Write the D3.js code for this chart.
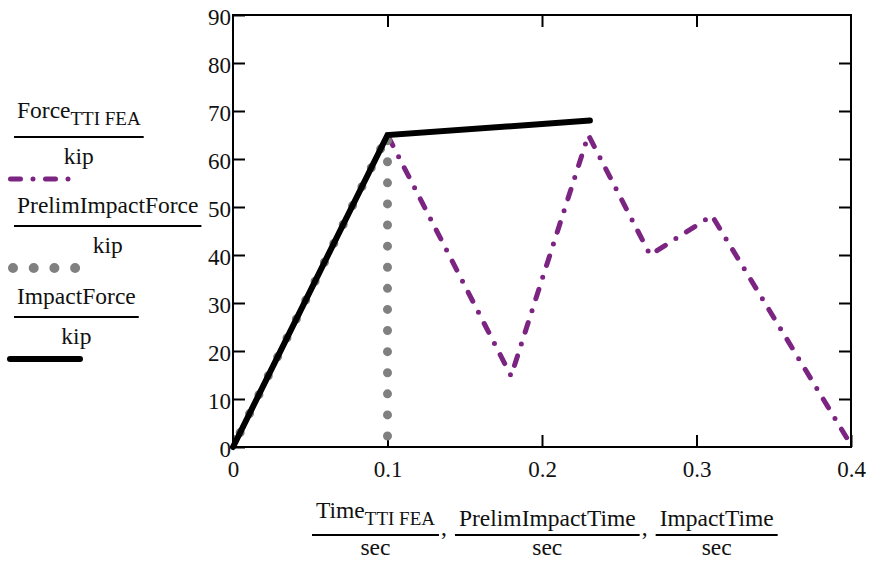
<!DOCTYPE html>
<html><head><meta charset="utf-8">
<script src="https://cdn.jsdelivr.net/npm/d3@7"></script>
<style>body{margin:0;background:#fff}svg{display:block}</style>
</head><body><svg id="c" width="870" height="565" style="font-family:'Liberation Serif','Times New Roman','DejaVu Serif',serif"></svg>
<script>
// Data
const timeTTI = [0, 0.1, 0.18, 0.23, 0.27, 0.31, 0.398];
const forceTTI = [0, 65, 14.8, 65, 40, 48.2, 1.5];
const prelimTime = [0, 0.1, 0.1];
const prelimForce = [0, 65, 0];
const impactTime = [0, 0.1, 0.231];
const impactForce = [0, 65, 68];
const xTicks = [0, 0.1, 0.2, 0.3, 0.4];
const yTicks = [0, 10, 20, 30, 40, 50, 60, 70, 80, 90];
const xTickLabels = ["0", "0.1", "0.2", "0.3", "0.4"];
const yTickLabels = ["0", "10", "20", "30", "40", "50", "60", "70", "80", "90"];
const legendNames = [["Force", "TTI FEA"], ["PrelimImpactForce", ""], ["ImpactForce", ""]];
const legendUnit = "kip";
const xNames = [["Time", "TTI FEA"], ["PrelimImpactTime", ""], ["ImpactTime", ""]];
const xUnit = "sec";

const FONT = "'Liberation Serif','Times New Roman','DejaVu Serif',serif";
const FS = 23.5, SUB = 19;
const svg = d3.select("#c");
const L = 233, R = 851, T = 15, B = 447;
const x = d3.scaleLinear().domain([0, 0.4]).range([L, R]);
const y = d3.scaleLinear().domain([0, 90]).range([B, T]);

const purple = "#7b2482", gray = "#808080";

// axes (inner ticks)
const gx = svg.append("g").attr("transform", `translate(0,${B})`)
  .call(d3.axisBottom(x).tickValues(xTicks).tickSizeInner(-12).tickSizeOuter(0).tickPadding(14).tickFormat((d,i)=>xTickLabels[i]));
const gxt = svg.append("g").attr("transform", `translate(0,${T})`)
  .call(d3.axisTop(x).tickValues(xTicks.slice(1,4)).tickSizeInner(-12).tickSizeOuter(0).tickFormat(""));
const gy = svg.append("g").attr("transform", `translate(${L},0)`)
  .call(d3.axisLeft(y).tickValues(yTicks).tickSizeInner(-12).tickSizeOuter(0).tickPadding(2).tickFormat((d,i)=>yTickLabels[i]));
const gyr = svg.append("g").attr("transform", `translate(${R},0)`)
  .call(d3.axisRight(y).tickValues(yTicks.slice(1,9)).tickSizeInner(-12).tickSizeOuter(0).tickFormat(""));
[gx, gxt, gy, gyr].forEach(g => {
  g.attr("font-family", FONT);
  g.selectAll(".domain").remove();
  g.selectAll("line").attr("stroke", "#000").attr("stroke-width", 2);
  g.selectAll("text").attr("font-size", 23).style("font-family", FONT).attr("fill", "#111");
});
gx.selectAll("text").attr("dy", "0.71em");
gy.selectAll("text").attr("dy", "0.42em");
// frame
svg.append("rect").attr("x", L).attr("y", T).attr("width", R - L).attr("height", B - T)
  .attr("fill", "none").attr("stroke", "#000").attr("stroke-width", 2);

const line = d3.line().x(d => x(d[0])).y(d => y(d[1]));
const purpleDash = "10,12.5,0,12.5";
svg.append("path").datum(d3.zip(timeTTI, forceTTI)).attr("d", line)
  .attr("fill", "none").attr("stroke", purple).attr("stroke-width", 5)
  .attr("stroke-linecap", "round").attr("stroke-linejoin", "round").attr("stroke-dasharray", purpleDash);
svg.append("path").datum(d3.zip(prelimTime, prelimForce)).attr("d", line)
  .attr("fill", "none").attr("stroke", gray).attr("stroke-width", 9)
  .attr("stroke-linecap", "round").attr("stroke-dasharray", "0,21.1").attr("stroke-dashoffset", 4.9);
svg.append("path").datum(d3.zip(impactTime, impactForce)).attr("d", line)
  .attr("fill", "none").attr("stroke", "#000").attr("stroke-width", 6)
  .attr("stroke-linecap", "round").attr("stroke-linejoin", "miter");

function mkText(g, parts, fs, subFs) {
  const t = g.append("text").attr("font-size", fs).style("font-family", FONT).attr("fill", "#111");
  t.append("tspan").text(parts[0]);
  if (parts[1]) t.append("tspan").attr("font-size", subFs).attr("dy", 7).text(parts[1]);
  return t;
}

// legend
const legendY = [118, 213, 304];
const legendStyles = [
  {stroke: purple, w: 5, dash: purpleDash, x1: 10.5, x2: 80},
  {stroke: gray, w: 10, dash: "0,20.7", x1: 13, x2: 76},
  {stroke: "#000", w: 6, dash: null, x1: 10, x2: 80}
];
legendNames.forEach((n, i) => {
  const g = svg.append("g");
  const t = mkText(g, n, FS, SUB).attr("y", legendY[i]);
  const w = t.node().getComputedTextLength();
  const lw = w + 6, x0 = 14, cx = x0 + lw / 2;
  t.attr("x", cx - w / 2);
  const uy = legendY[i] + (n[1] ? 19 : 13);
  g.append("line").attr("x1", x0).attr("x2", x0 + lw)
    .attr("y1", uy).attr("y2", uy).attr("stroke", "#000").attr("stroke-width", 2);
  g.append("text").attr("x", cx).attr("y", uy + 27).attr("text-anchor", "middle")
    .attr("font-size", FS).style("font-family", FONT).attr("fill", "#111").text(legendUnit);
  const s = legendStyles[i];
  const ly = uy + 42;
  g.append("line").attr("x1", s.x1).attr("x2", s.x2).attr("y1", ly).attr("y2", ly)
    .attr("stroke", s.stroke).attr("stroke-width", s.w).attr("stroke-linecap", "round")
    .attr("stroke-dasharray", s.dash);
});

// x axis label
let cursor = 312;
const uLine = 535;
xNames.forEach((n, i) => {
  const g = svg.append("g");
  const base = n[1] ? 518 : 526;
  const t = mkText(g, n, FS, SUB).attr("y", base);
  const w = t.node().getComputedTextLength();
  const lw = w + 8, cx = cursor + lw / 2;
  t.attr("x", cx - w / 2);
  g.append("line").attr("x1", cursor).attr("x2", cursor + lw).attr("y1", uLine).attr("y2", uLine)
    .attr("stroke", "#000").attr("stroke-width", 2);
  g.append("text").attr("x", cx).attr("y", 555).attr("text-anchor", "middle")
    .attr("font-size", FS).style("font-family", FONT).attr("fill", "#111").text(xUnit);
  cursor += lw;
  if (i < xNames.length - 1) {
    g.append("text").attr("x", cursor + 2).attr("y", uLine).attr("font-size", FS)
      .style("font-family", FONT).attr("fill", "#111").text(",");
    cursor += 16;
  }
});
</script></body></html>
